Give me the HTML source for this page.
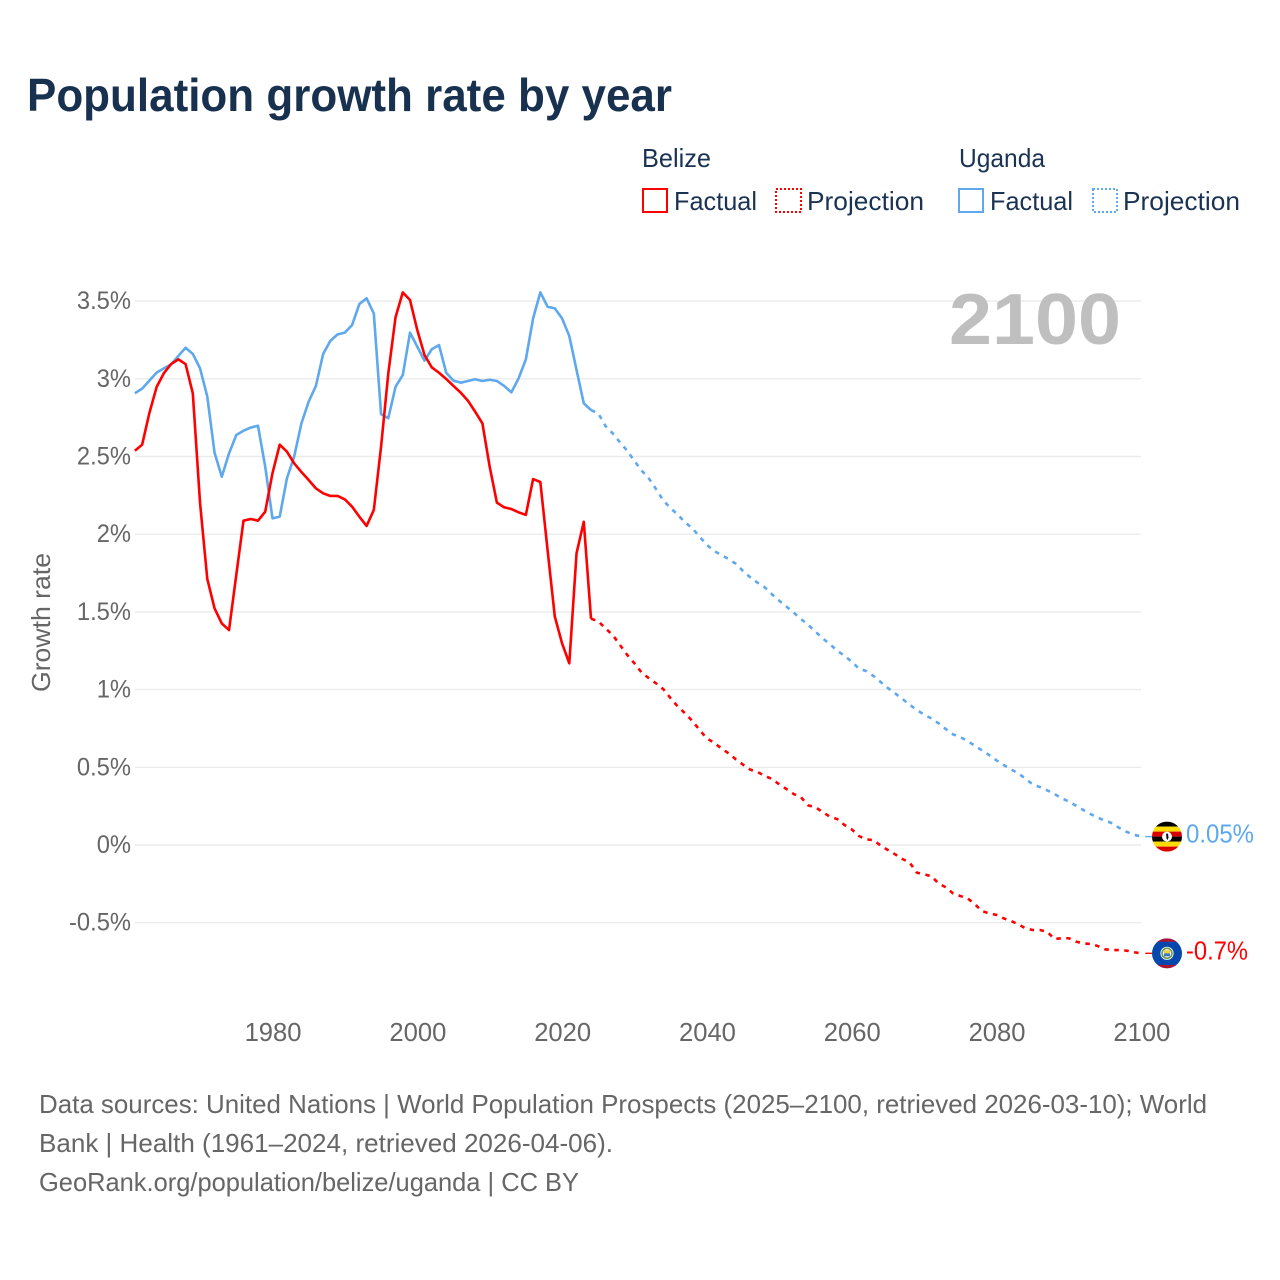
<!DOCTYPE html>
<html lang="en">
<head>
<meta charset="utf-8">
<title>Population growth rate by year</title>
<style>
html,body{margin:0;padding:0;background:#fff}
svg{display:block}
text{font-family:"Liberation Sans",sans-serif}
.dark{fill:#1a3353;font-size:26px}
.grey{fill:#666;font-size:26px}
</style>
</head>
<body>
<svg id="chart" xmlns="http://www.w3.org/2000/svg" width="1280" height="1280" viewBox="0 0 1280 1280">
<rect x="0" y="0" width="1280" height="1280" fill="#fff"/>
<text x="27" y="111" font-size="46" font-weight="700" fill="#17314f" textLength="645" lengthAdjust="spacingAndGlyphs">Population growth rate by year</text>

<g>
<text class="dark" x="642" y="167" textLength="69" lengthAdjust="spacingAndGlyphs">Belize</text>
<g>
<rect x="643" y="189" width="24" height="23" fill="none" stroke="#ff0000" stroke-width="2"/>
<text class="dark" x="674" y="210" textLength="83" lengthAdjust="spacingAndGlyphs">Factual</text>
</g>
<g>
<rect x="776" y="189" width="25" height="23" fill="none" stroke="#ff0000" stroke-width="2" stroke-dasharray="2 2"/>
<text class="dark" x="807" y="210" textLength="117" lengthAdjust="spacingAndGlyphs">Projection</text>
</g>
<text class="dark" x="959" y="167" textLength="86" lengthAdjust="spacingAndGlyphs">Uganda</text>
<g>
<rect x="959" y="189" width="24" height="23" fill="none" stroke="#5ea8ee" stroke-width="2"/>
<text class="dark" x="990" y="210" textLength="83" lengthAdjust="spacingAndGlyphs">Factual</text>
</g>
<g>
<rect x="1093" y="189" width="24" height="23" fill="none" stroke="#5ea8ee" stroke-width="2" stroke-dasharray="2 2"/>
<text class="dark" x="1123" y="210" textLength="117" lengthAdjust="spacingAndGlyphs">Projection</text>
</g>
</g>

<g id="grid"></g>
<g id="yticks"></g>
<g id="xticks"></g>
<text class="grey" transform="translate(50,692) rotate(-90)" x="0" y="0" textLength="139" lengthAdjust="spacingAndGlyphs">Growth rate</text>
<text x="949" y="344" font-size="72" font-weight="700" fill="#bfbfbf" textLength="172" lengthAdjust="spacingAndGlyphs">2100</text>
<g id="series"></g>

<defs>
<clipPath id="flag-clip-ug"><circle cx="0" cy="0" r="15"/></clipPath>
<clipPath id="flag-clip-bz"><circle cx="0" cy="0" r="15"/></clipPath>
</defs>
<g id="flag-uganda">
<g clip-path="url(#flag-clip-ug)">
<rect x="-15" y="-15" width="30" height="5" fill="#000"/>
<rect x="-15" y="-10" width="30" height="5" fill="#fcdc04"/>
<rect x="-15" y="-5" width="30" height="5" fill="#d90000"/>
<rect x="-15" y="0" width="30" height="5" fill="#000"/>
<rect x="-15" y="5" width="30" height="5" fill="#fcdc04"/>
<rect x="-15" y="10" width="30" height="5" fill="#d90000"/>
<circle cx="0" cy="0" r="5" fill="#fff"/>
<path d="M-1,-3 L1,-3 L1.5,1 L0.5,3.5 L-0.5,2 Z" fill="#111"/>
</g>
</g>
<g id="flag-belize">
<g clip-path="url(#flag-clip-bz)">
<rect x="-15" y="-15" width="30" height="30" fill="#0548ad"/>
<rect x="-15" y="-15" width="30" height="3.4" fill="#ad1330"/>
<rect x="-15" y="11.6" width="30" height="3.4" fill="#ad1330"/>
<circle cx="0" cy="0" r="6.6" fill="#fff"/>
<circle cx="0" cy="0" r="5" fill="none" stroke="#6a9a4a" stroke-width="1.6"/>
<rect x="-3" y="-3" width="6" height="3" fill="#f0d040"/>
<rect x="-3" y="0" width="6" height="3" fill="#3b78c4"/>
</g>
</g>
<text id="label-uganda" x="1186" font-size="26" fill="#5ea8ee" textLength="68" lengthAdjust="spacingAndGlyphs"></text>
<text id="label-belize" x="1186" font-size="26" fill="#ff0000" textLength="62" lengthAdjust="spacingAndGlyphs"></text>

<g>
<text class="grey" x="39" y="1113" textLength="1168" lengthAdjust="spacingAndGlyphs">Data sources: United Nations | World Population Prospects (2025–2100, retrieved 2026-03-10); World</text>
<text class="grey" x="39" y="1152" textLength="574" lengthAdjust="spacingAndGlyphs">Bank | Health (1961–2024, retrieved 2026-04-06).</text>
<text class="grey" x="39" y="1191" textLength="540" lengthAdjust="spacingAndGlyphs">GeoRank.org/population/belize/uganda | CC BY</text>
</g>
</svg>

<script>
const factualStartYear = 1961;
const projectionStartYear = 2024;
const yTickValues = [3.5, 3, 2.5, 2, 1.5, 1, 0.5, 0, -0.5];
const yTickLabels = ['3.5%', '3%', '2.5%', '2%', '1.5%', '1%', '0.5%', '0%', '-0.5%'];
const xTickYears = [1980, 2000, 2020, 2040, 2060, 2080, 2100];
const endLabelBelize = '-0.7%';
const endLabelUganda = '0.05%';

const belizeFactual = [
2.537,2.576,2.78,2.947,3.036,3.095,3.125,3.095,2.906,2.2,
1.712,1.523,1.426,1.383,1.737,2.087,2.098,2.087,2.145,2.392,
2.576,2.531,2.456,2.4,2.349,2.295,2.263,2.246,2.246,2.224,
2.177,2.113,2.053,2.156,2.563,3.035,3.396,3.556,3.507,3.314,
3.153,3.074,3.039,2.999,2.954,2.911,2.859,2.788,2.713,2.435,
2.203,2.173,2.162,2.141,2.124,2.355,2.336,1.898,1.469,1.298,
1.169,1.877,2.08,1.456];

const belizeProjection = [
1.456,1.44,1.394,1.351,1.287,1.223,1.169,1.109,1.073,1.04,
1.002,0.944,0.89,0.847,0.798,0.74,0.686,0.658,0.622,0.59,
0.551,0.517,0.485,0.47,0.444,0.425,0.39,0.36,0.328,0.307,
0.255,0.243,0.212,0.182,0.167,0.129,0.101,0.058,0.036,0.032,
-0.004,-0.032,-0.06,-0.09,-0.112,-0.178,-0.189,-0.2,-0.247,-0.272,
-0.311,-0.328,-0.343,-0.38,-0.425,-0.44,-0.45,-0.472,-0.489,-0.51,
-0.536,-0.547,-0.547,-0.558,-0.605,-0.6,-0.6,-0.622,-0.633,-0.637,
-0.65,-0.671,-0.676,-0.676,-0.68,-0.69,-0.697];

const ugandaFactual = [
2.907,2.937,2.988,3.04,3.067,3.093,3.147,3.2,3.16,3.067,
2.885,2.525,2.37,2.52,2.638,2.666,2.686,2.698,2.435,2.102,
2.113,2.36,2.5,2.713,2.853,2.954,3.16,3.245,3.286,3.297,
3.346,3.481,3.518,3.421,2.773,2.746,2.949,3.024,3.297,3.207,
3.117,3.19,3.217,3.039,2.988,2.975,2.986,2.997,2.986,2.994,
2.986,2.954,2.913,3.003,3.125,3.389,3.556,3.464,3.453,3.389,
3.275,3.057,2.842,2.799];

const ugandaProjection = [
2.799,2.778,2.696,2.649,2.591,2.537,2.471,2.409,2.358,2.289,
2.216,2.167,2.125,2.076,2.038,1.984,1.931,1.892,1.866,1.84,
1.81,1.763,1.722,1.688,1.658,1.613,1.572,1.534,1.495,1.454,
1.416,1.373,1.33,1.292,1.25,1.218,1.18,1.135,1.12,1.088,
1.049,1.01,0.976,0.94,0.903,0.869,0.839,0.815,0.783,0.746,
0.712,0.695,0.669,0.639,0.609,0.579,0.545,0.515,0.487,0.461,
0.427,0.39,0.373,0.352,0.328,0.302,0.279,0.253,0.225,0.199,
0.176,0.156,0.14,0.109,0.084,0.066,0.054];

const NS = 'http://www.w3.org/2000/svg';
function xScale(year) { return 134.9 + (year - 1961) * 7.24; }
function yScale(value) { return 845 - value * 155.4; }

function make(parent, tag, attrs) {
  const el = document.createElementNS(NS, tag);
  for (const k in attrs) el.setAttribute(k, attrs[k]);
  parent.appendChild(el);
  return el;
}
function linePath(values, startYear) {
  return values.map(function (v, i) {
    return (i ? 'L' : 'M') + xScale(startYear + i).toFixed(2) + ',' + yScale(v).toFixed(2);
  }).join(' ');
}

const gridG = document.getElementById('grid');
const yG = document.getElementById('yticks');
yTickValues.forEach(function (v, i) {
  const gl = make(gridG, 'line', {x1: 135, x2: 1141, y1: yScale(v), y2: yScale(v), stroke: '#ebebeb', 'stroke-width': 1.4});
  
  
  const t = make(yG, 'text', {x: 131, y: yScale(v) + 8, 'text-anchor': 'end', 'font-size': 25, fill: '#666'});
  
  
  t.textContent = yTickLabels[i];
  t.setAttribute('textLength', (t.getComputedTextLength() * 0.95).toFixed(1));
  t.setAttribute('lengthAdjust', 'spacingAndGlyphs');
});

const xG = document.getElementById('xticks');
xTickYears.forEach(function (yr) {
  const t = make(xG, 'text', {x: xScale(yr) + 0.6, y: 1041, 'text-anchor': 'middle', 'font-size': 25.6, fill: '#666'});
  
  
  t.textContent = yr;
});

const seriesG = document.getElementById('series');
function drawLine(values, startYear, color, dashed, name) {
  const attrs = {d: linePath(values, startYear), fill: 'none', stroke: color, 'stroke-width': 2.6, 'stroke-linejoin': 'round'};
  if (dashed) attrs['stroke-dasharray'] = '4.5 5.5';
  const p = make(seriesG, 'path', attrs);
  
  
}
drawLine(ugandaFactual, factualStartYear, '#5ea8ee', false, 'uganda-factual-line');
drawLine(belizeFactual, factualStartYear, '#ff0000', false, 'belize-factual-line');
drawLine(ugandaProjection, projectionStartYear, '#5ea8ee', true, 'uganda-projection-line');
drawLine(belizeProjection, projectionStartYear, '#ff0000', true, 'belize-projection-line');

const flagX = 1167;
function placeEnd(values, color, flagId, labelId, labelText, leaderName) {
  const last = values[values.length - 1];
  const y = yScale(last);
  const leader = make(seriesG, 'line', {x1: xScale(2100) + 4, x2: flagX - 15, y1: y, y2: y, stroke: color, 'stroke-width': 1.4});
  
  
  document.getElementById(flagId).setAttribute('transform', 'translate(' + flagX + ',' + y + ')');
  const lab = document.getElementById(labelId);
  lab.setAttribute('y', y + 6);
  lab.textContent = labelText;
}
placeEnd(ugandaProjection, '#5ea8ee', 'flag-uganda', 'label-uganda', endLabelUganda, 'uganda-leader-line');
placeEnd(belizeProjection, '#ff0000', 'flag-belize', 'label-belize', endLabelBelize, 'belize-leader-line');
</script>
</body>
</html>
